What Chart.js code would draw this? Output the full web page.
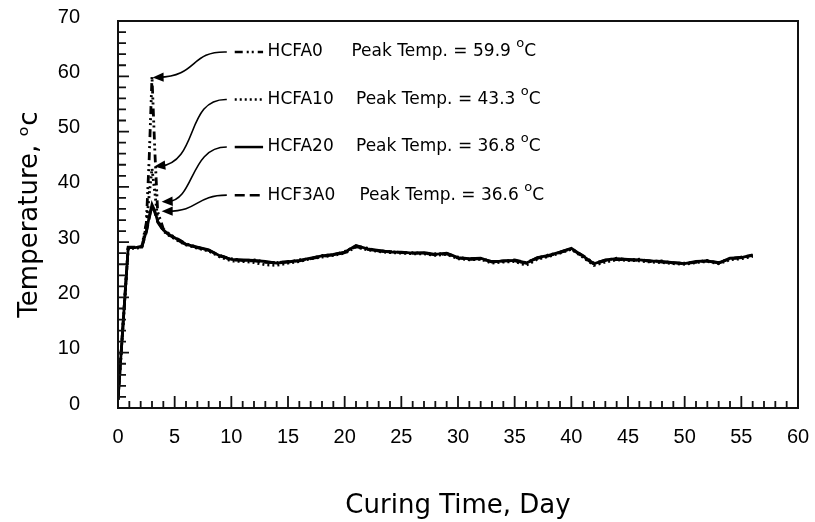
<!DOCTYPE html>
<html lang="en">
<head>
<meta charset="UTF-8">
<title>Curing temperature</title>
<script src="https://cdn.jsdelivr.net/npm/chart.js@4.4.0/dist/chart.umd.min.js"></script>
<style>
  html, body { margin: 0; padding: 0; background: #fff; }
</style>
</head>
<body>
<canvas id="myChart" width="815" height="522"></canvas>
<script>
// curing time (day)
const days = [0, 0.9, 1.5, 2.1, 2.5, 2.75, 3.0, 3.25, 3.5, 4.0, 4.5, 5, 5.5, 6,
  7, 8, 9, 10, 11, 12, 13, 14, 15, 16, 17, 18, 19, 20, 21, 22, 23, 24, 25, 26,
  27, 28, 29, 30, 31, 32, 33, 34, 35, 36, 37, 38, 39, 40, 41, 42, 43, 44, 45,
  46, 47, 48, 49, 50, 51, 52, 53, 54, 55, 56];

// temperature (oC) per mix
const hcfa0 = [1.5, 29.0, 29.0, 29.2, 33.5, 45.0, 59.9, 46.5, 35.5, 32.4, 31.5, 30.9, 30.3, 29.7,
  29.1, 28.5, 27.5, 27.0, 26.7, 26.8, 26.4, 26.3, 26.4, 26.8, 27.0, 27.6, 27.7, 28.3, 29.3, 28.9,
  28.4, 28.3, 28.1, 28.1, 28.0, 27.9, 27.9, 27.3, 26.9, 27.0, 26.5, 26.5, 26.8, 26.3, 27.1, 27.7,
  28.1, 28.8, 27.6, 26.2, 26.7, 27.1, 26.8, 26.9, 26.5, 26.6, 26.2, 26.2, 26.4, 26.7, 26.3, 27.0,
  27.3, 27.6];
const hcfa10 = [1.5, 28.8, 28.9, 29.0, 33.0, 38.5, 43.3, 39.0, 34.2, 32.0, 31.2, 30.6, 30.0, 29.5,
  28.9, 28.4, 27.3, 26.6, 26.5, 26.3, 25.9, 25.8, 26.2, 26.5, 27.0, 27.3, 27.6, 28.0, 29.1, 28.6,
  28.3, 28.1, 28.0, 27.9, 27.9, 27.6, 27.8, 27.0, 26.8, 26.9, 26.2, 26.4, 26.5, 25.8, 26.9, 27.4,
  28.0, 28.7, 27.3, 25.8, 26.4, 26.8, 26.7, 26.6, 26.4, 26.3, 26.1, 26.0, 26.3, 26.5, 26.1, 26.8,
  27.0, 27.4];
const hcfa20 = [1.5, 29.0, 29.0, 29.2, 32.0, 34.5, 36.8, 35.6, 33.8, 32.2, 31.4, 30.8, 30.2, 29.6,
  29.1, 28.6, 27.5, 26.9, 26.8, 26.7, 26.5, 26.2, 26.4, 26.7, 27.1, 27.5, 27.8, 28.2, 29.4, 28.8,
  28.5, 28.2, 28.2, 28.0, 28.1, 27.8, 28.0, 27.2, 27.0, 27.1, 26.4, 26.6, 26.7, 26.2, 27.2, 27.6,
  28.2, 28.9, 27.5, 26.1, 26.8, 27.0, 26.9, 26.8, 26.6, 26.5, 26.3, 26.1, 26.5, 26.6, 26.2, 27.1,
  27.2, 27.7];
const hcf3a0 = [1.5, 29.1, 29.1, 29.1, 31.8, 34.3, 36.6, 35.4, 33.6, 32.1, 31.3, 30.7, 30.1, 29.6,
  29.0, 28.5, 27.6, 26.8, 26.7, 26.6, 26.4, 26.3, 26.5, 26.6, 27.0, 27.4, 27.7, 28.1, 29.2, 28.7,
  28.4, 28.3, 28.1, 28.0, 28.0, 27.7, 27.9, 27.1, 27.0, 27.0, 26.5, 26.6, 26.6, 26.3, 27.1, 27.5,
  28.2, 28.8, 27.4, 26.0, 26.7, 26.9, 26.8, 26.7, 26.6, 26.4, 26.3, 26.1, 26.4, 26.6, 26.2, 27.0,
  27.2, 27.6];

const seriesNames = ['HCFA0', 'HCFA10', 'HCFA20', 'HCF3A0'];
const peakTemps = ['59.9', '43.3', '36.8', '36.6'];
const xTicks = [0, 5, 10, 15, 20, 25, 30, 35, 40, 45, 50, 55, 60];
const yTicks = [0, 10, 20, 30, 40, 50, 60, 70];

const dashes = [[8, 4, 2, 3, 2, 4], [2, 3], [], [10, 5]];

// annotation layout in data units (day, temp)
const noteLayout = [
  { row: 64.4, peakAt: 20.6, c1: [6.3, 64.6], c2: [7.1, 60.0], tip: [3.05, 59.8] },
  { row: 55.8, peakAt: 21.0, c1: [5.9, 56.0], c2: [7.2, 44.6], tip: [3.2, 43.7] },
  { row: 47.2, peakAt: 21.0, c1: [6.3, 47.2], c2: [6.8, 37.6], tip: [3.85, 37.3] },
  { row: 38.5, peakAt: 21.3, c1: [6.8, 38.5], c2: [7.2, 35.6], tip: [3.85, 35.6] }
];

function toPts(arr) {
  return days.map((d, i) => ({ x: d, y: arr[i] }));
}

const framePlugin = {
  id: 'frame',
  afterDatasetsDraw(chart) {
    const ctx = chart.ctx;
    const a = chart.chartArea;
    const xs = chart.scales.x, ys = chart.scales.y;
    ctx.save();
    ctx.strokeStyle = '#111';
    ctx.lineWidth = 2;
    ctx.setLineDash([]);
    ctx.strokeRect(a.left, a.top, a.right - a.left, a.bottom - a.top);

    // inward ticks
    ctx.lineWidth = 1.8;
    ctx.beginPath();
    for (let d = 0; d <= 60; d++) {
      const px = xs.getPixelForValue(d);
      const len = d % 5 === 0 ? 12 : 7;
      ctx.moveTo(px, a.bottom);
      ctx.lineTo(px, a.bottom - len);
    }
    for (let t = 0; t <= 70; t += 2) {
      const py = ys.getPixelForValue(t);
      const len = t % 10 === 0 ? 11 : 8;
      ctx.moveTo(a.left, py);
      ctx.lineTo(a.left + len, py);
    }
    ctx.stroke();

    // annotations
    const X = v => xs.getPixelForValue(v);
    const Y = v => ys.getPixelForValue(v);
    noteLayout.forEach((n, i) => {
      const y0 = Y(n.row);
      const sx = X(9.6);
      const tx = X(n.tip[0]), ty = Y(n.tip[1]);
      const c2x = X(n.c2[0]), c2y = Y(n.c2[1]);
      ctx.strokeStyle = '#000';
      ctx.lineWidth = 1.6;
      ctx.setLineDash([]);
      ctx.beginPath();
      ctx.moveTo(sx, y0);
      ctx.bezierCurveTo(X(n.c1[0]), Y(n.c1[1]), c2x, c2y, tx + 6, ty);
      ctx.stroke();
      // arrow head
      const ang = Math.atan2(ty - c2y, tx - c2x);
      const L = 12, w = 0.4;
      ctx.fillStyle = '#000';
      ctx.beginPath();
      ctx.moveTo(tx, ty);
      ctx.lineTo(tx - L * Math.cos(ang - w), ty - L * Math.sin(ang - w));
      ctx.lineTo(tx - L * Math.cos(ang + w), ty - L * Math.sin(ang + w));
      ctx.closePath();
      ctx.fill();

      // line sample
      ctx.lineWidth = 2.5;
      ctx.setLineDash(dashes[i]);
      ctx.beginPath();
      ctx.moveTo(X(10.3), y0);
      ctx.lineTo(X(12.8), y0);
      ctx.stroke();
      ctx.setLineDash([]);

      ctx.fillStyle = '#000';
      ctx.textBaseline = 'middle';
      ctx.textAlign = 'left';
      ctx.font = '17px "DejaVu Sans"';
      ctx.fillText(seriesNames[i], X(13.2), y0);
      const txt = 'Peak Temp. = ' + peakTemps[i] + ' ';
      const px = X(n.peakAt);
      ctx.fillText(txt, px, y0);
      const w1 = ctx.measureText(txt).width;
      ctx.font = '13px "DejaVu Sans"';
      ctx.fillText('o', px + w1, y0 - 8);
      const w2 = ctx.measureText('o').width;
      ctx.font = '17px "DejaVu Sans"';
      ctx.fillText('C', px + w1 + w2, y0);
    });
    ctx.restore();
  }
};

const ctx = document.getElementById('myChart');
const myChart = new Chart(ctx, {
  type: 'line',
  data: {
    datasets: [
      { label: seriesNames[0], data: toPts(hcfa0), borderDash: dashes[0] },
      { label: seriesNames[1], data: toPts(hcfa10), borderDash: dashes[1] },
      { label: seriesNames[3], data: toPts(hcf3a0), borderDash: dashes[3] },
      { label: seriesNames[2], data: toPts(hcfa20), borderDash: dashes[2] }
    ].map(ds => Object.assign(ds, {
      borderColor: '#000', borderWidth: 2.8, pointRadius: 0, fill: false, tension: 0
    }))
  },
  options: {
    responsive: false,
    animation: false,
    layout: { padding: { left: 0, right: 17, top: 21, bottom: 0 } },
    plugins: { legend: { display: false }, tooltip: { enabled: false } },
    scales: {
      x: {
        type: 'linear', min: 0, max: 60,
        afterBuildTicks: s => { s.ticks = xTicks.map(v => ({ value: v })); },
        ticks: { padding: 2, color: '#000', font: { family: 'Liberation Sans', size: 20 }, maxRotation: 0 },
        // invisible tick marks just push the labels away from the axis
        grid: { display: false, drawTicks: true, tickLength: 15, tickColor: 'rgba(0,0,0,0)' },
        border: { display: false },
        title: { display: true, text: 'Curing Time, Day', color: '#000',
          font: { family: 'DejaVu Sans', size: 26 }, padding: { top: 10, bottom: 0 } },
        afterFit: s => { s.height = 114; }
      },
      y: {
        min: 0, max: 70,
        afterBuildTicks: s => { s.ticks = yTicks.map(v => ({ value: v })); },
        ticks: { padding: 2, labelOffset: -4, color: '#000', font: { family: 'Liberation Sans', size: 20 } },
        grid: { display: false, drawTicks: true, tickLength: 36, tickColor: 'rgba(0,0,0,0)' },
        border: { display: false },
        title: { display: true, text: 'Temperature, ᵒc', color: '#000',
          font: { family: 'DejaVu Sans', size: 26 }, padding: { top: 15, bottom: 0 } },
        afterFit: s => { s.width = 118; }
      }
    }
  },
  plugins: [framePlugin]
});
</script>
</body>
</html>
